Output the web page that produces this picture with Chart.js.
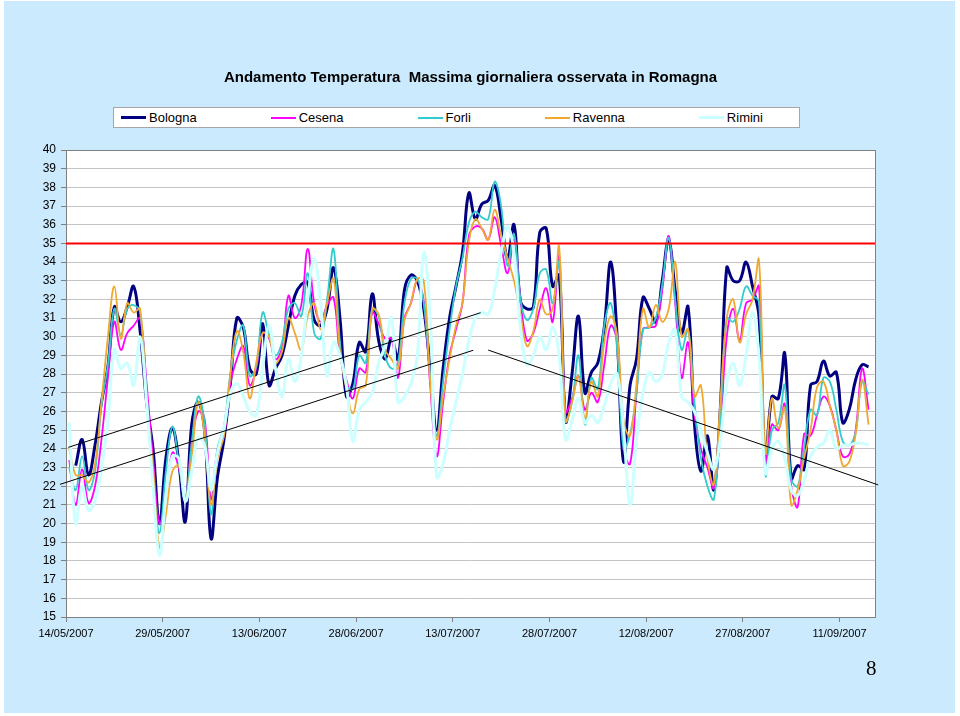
<!DOCTYPE html>
<html>
<head>
<meta charset="utf-8">
<script src="https://cdn.jsdelivr.net/npm/chart.js@4.4.1/dist/chart.umd.min.js"></script>
<style>
html,body{margin:0;padding:0;background:#ffffff;}
#page{position:relative;width:960px;height:716px;overflow:hidden;font-family:"Liberation Sans",Arial,sans-serif;color:#000;}
#bg{position:absolute;left:4px;top:1px;width:951px;height:712px;background:#CCEAFD;}
#c{position:absolute;left:0;top:0;}
#title{position:absolute;left:66px;width:809px;top:68px;text-align:center;font-weight:bold;font-size:15px;line-height:18px;white-space:pre;}
#legend{position:absolute;left:113px;top:107px;width:678px;height:19px;background:#fff;border:1px solid #A6A6A6;display:flex;align-items:center;padding-left:7px;box-sizing:content-box;}
.item{display:flex;align-items:center;font-size:13px;line-height:19px;margin-right:74px;white-space:nowrap;}
.swatch{width:25px;margin-right:3px;}
#pg{position:absolute;left:866px;top:658px;font-family:"Liberation Serif","Times New Roman",serif;font-size:21px;line-height:21px;}
</style>
</head>
<body>
<div id="page">
  <div id="bg"></div>
  <canvas id="c" width="960" height="716"></canvas>
  <div id="title">Andamento Temperatura  Massima giornaliera osservata in Romagna</div>
  <div id="legend"></div>
  <div id="pg">8</div>
</div>
<script>
// ---- data (daily maximum temperature, one value per day from 14/05/2007) ----
const tickLabels = ["14/05/2007","29/05/2007","13/06/2007","28/06/2007","13/07/2007","28/07/2007","12/08/2007","27/08/2007","11/09/2007"];
const seriesNames = ["Bologna","Cesena","Forli","Ravenna","Rimini"];

const bologna = [
 null,23.1,24.5,22.6,24.2,26.5,28.4,31.6,30.8,31.6,
 32.7,30.3,26.5,24.0,20.0,23.5,25.1,23.3,20.1,25.3,
 26.5,25.0,19.2,22.5,24.5,27.5,31.0,30.5,28.3,28.0,
 30.7,27.4,28.3,29.0,30.6,32.2,32.8,32.9,30.9,30.6,
 31.5,33.7,31.0,26.8,27.5,29.7,29.2,32.3,29.8,28.8,
 29.9,28.8,32.5,33.3,33.0,31.5,28.3,25.0,28.3,31.0,
 32.7,34.5,37.7,36.3,37.1,37.3,38.1,36.3,34.2,36.0,
 31.9,31.5,31.6,35.6,35.8,32.7,33.3,25.5,28.0,31.1,
 27.0,28.1,28.6,30.5,34.0,30.0,23.3,27.4,28.8,32.1,
 31.5,30.8,33.0,35.2,32.5,30.2,31.6,25.3,22.8,24.7,
 21.8,26.1,33.7,33.0,33.0,34.0,32.7,31.1,23.3,26.8,
 26.7,29.1,22.4,23.1,22.9,27.4,27.6,28.7,27.9,28.1,
 25.4,26.1,27.7,28.5,28.4];

const cesena = [
 23.4,21.0,22.9,21.1,22.0,24.5,27.8,30.8,29.3,30.2,
 30.6,31.0,27.5,23.5,20.0,21.5,23.8,23.0,21.3,24.3,
 26.0,25.6,21.3,24.0,24.7,27.5,28.8,29.5,27.4,28.3,
 30.2,29.9,28.8,29.4,32.2,31.0,31.7,34.7,31.8,30.8,
 31.7,32.1,29.0,27.7,26.7,28.3,28.1,31.3,30.7,29.9,
 29.9,27.8,31.0,31.8,33.0,31.9,27.4,23.6,26.5,29.0,
 30.4,31.8,35.4,35.9,35.8,35.2,36.4,34.9,33.4,35.2,
 32.0,29.8,30.2,31.5,32.6,30.8,34.3,26.0,26.7,27.9,
 26.1,27.0,26.5,28.5,30.6,29.7,24.0,23.2,27.0,30.4,
 30.5,30.6,32.5,35.4,31.8,27.8,29.7,25.8,24.0,23.0,
 21.9,25.0,30.0,31.5,29.8,31.8,32.0,32.7,23.3,25.3,
 25.0,26.4,22.0,20.9,24.8,24.7,25.8,26.8,26.3,25.0,
 23.6,23.7,25.0,28.3,26.1];

const forli = [
 23.0,21.8,23.6,21.8,22.8,26.3,28.5,31.5,30.1,31.5,
 31.7,31.3,27.0,22.5,19.5,22.8,25.2,23.3,21.3,24.3,
 26.8,25.4,20.5,24.0,25.2,28.0,29.8,30.6,27.9,28.4,
 31.3,30.1,29.0,29.7,31.5,31.8,31.1,33.4,30.2,29.9,
 32.0,34.7,29.7,27.4,27.2,29.0,28.6,31.5,31.1,29.0,
 28.3,28.6,31.8,33.1,33.1,31.8,27.9,24.7,27.6,30.4,
 32.7,34.2,36.1,36.7,36.4,36.3,38.3,37.0,33.8,35.5,
 32.0,30.9,31.5,33.4,33.6,31.8,34.0,25.5,26.5,29.0,
 25.3,27.8,27.2,30.6,31.8,29.3,24.0,24.8,27.0,30.4,
 30.5,31.0,32.8,35.3,32.0,29.3,30.4,26.5,23.5,22.0,
 21.3,25.5,31.0,30.8,31.5,32.7,32.2,31.9,22.6,25.0,
 25.4,27.4,22.4,22.0,24.0,26.1,25.8,27.8,27.6,26.1,
 24.4,24.2,24.9,27.6,26.9];

const ravenna = [
 24.0,22.6,22.6,22.2,23.2,26.5,30.0,32.7,29.9,31.8,
 31.3,31.5,26.5,23.0,18.7,20.5,22.8,23.1,21.3,23.5,
 26.5,24.7,21.0,23.5,24.7,28.0,30.3,29.2,26.7,28.6,
 30.2,30.0,28.6,29.2,31.0,30.2,29.3,31.1,31.8,30.4,
 31.8,33.1,29.2,27.2,25.9,27.2,27.4,31.5,31.2,29.3,
 28.8,28.3,30.9,31.8,33.1,33.0,27.6,24.5,26.8,28.8,
 30.6,31.8,35.1,36.3,35.8,35.2,36.8,35.4,34.2,33.0,
 31.2,29.5,30.3,32.0,31.2,31.5,34.8,25.5,26.5,27.9,
 25.6,27.6,26.8,29.7,31.1,30.1,25.5,24.7,27.5,31.5,
 30.5,31.7,30.8,31.5,34.0,30.0,30.4,26.8,27.4,23.5,
 22.1,26.5,31.0,32.0,29.7,31.2,32.0,34.1,23.8,26.7,
 25.1,26.2,21.0,21.8,23.5,25.0,27.3,27.6,26.3,25.0,
 23.1,23.3,24.8,27.7,25.3];

const rimini = [
 25.4,20.0,22.0,20.7,21.2,23.0,25.5,29.3,28.3,28.6,
 27.4,30.0,26.5,22.0,18.3,21.5,23.6,23.5,21.2,22.8,
 24.6,24.2,21.8,23.8,25.1,27.0,27.5,26.8,26.0,25.8,
 28.3,30.6,28.3,26.8,28.8,27.6,29.0,32.0,34.2,31.8,
 27.9,29.7,29.0,27.4,24.4,26.1,26.5,27.0,28.6,29.5,
 31.0,26.5,26.8,27.5,29.0,34.5,31.0,22.5,23.2,25.0,
 26.5,28.0,29.8,31.0,31.3,31.2,32.5,34.5,35.9,34.5,
 30.5,28.5,29.0,30.0,29.3,30.5,29.0,24.5,25.5,26.7,
 25.4,25.8,25.4,26.3,27.5,28.0,25.0,21.0,24.5,27.0,
 28.1,27.6,28.0,29.7,30.4,26.8,26.5,26.0,25.0,23.8,
 22.9,24.5,27.5,28.6,27.4,29.0,31.3,29.0,22.7,24.0,
 24.4,23.5,21.8,21.5,22.3,23.6,24.1,24.3,25.0,24.0,
 24.2,24.2,24.3,24.3,24.2];

// reference line (threshold) and hand-drawn trend lines, in (day, °C)
const thresholdDays = [0, 125.5];
const thresholdTemps = [35.0, 35.0];
const trendUpperDays = [0.36, 64.32];
const trendUpperTemps = [24.08, 31.29];
const trendLowerDays = [-0.93, 63.18];
const trendLowerTemps = [22.10, 29.28];
const trendDownDays = [65.5, 126.0];
const trendDownTemps = [29.29, 22.07];

// ---- build ----
const colors = ["#000080","#FF00FF","#33CCCC","#F0A830","#CCFFFF"];
const widths = [3, 1.8, 1.8, 1.8, 3];
const allSeries = [bologna, cesena, forli, ravenna, rimini];

function toPoints(arr){ return arr.map((v,i)=>({x:i+0.5, y:v})); }
function zipPoints(xs, ys){ return xs.map((x,i)=>({x:x, y:ys[i]})); }

const datasets = allSeries.map((arr, k) => ({
  label: seriesNames[k],
  data: toPoints(arr),
  borderColor: colors[k],
  backgroundColor: colors[k],
  borderWidth: widths[k],
  pointRadius: 0,
  tension: 0.4,
  fill: false,
  spanGaps: false,
  order: 5 - k
}));

function straight(xs, ys, color, w){
  return {label:'', data: zipPoints(xs, ys), borderColor: color, borderWidth: w,
          pointRadius: 0, tension: 0, fill: false, order: 0, clip: false};
}
datasets.push(straight(thresholdDays, thresholdTemps, '#FF0000', 2));
datasets.push(straight(trendUpperDays, trendUpperTemps, '#000000', 1));
datasets.push(straight(trendLowerDays, trendLowerTemps, '#000000', 1));
datasets.push(straight(trendDownDays, trendDownTemps, '#000000', 1));

// legend (HTML)
const lg = document.getElementById('legend');
seriesNames.forEach((n, k) => {
  const it = document.createElement('div'); it.className = 'item';
  const sw = document.createElement('div'); sw.className = 'swatch';
  sw.style.height = Math.round(widths[k]) + 'px'; sw.style.background = colors[k];
  const tx = document.createElement('span'); tx.textContent = n;
  it.appendChild(sw); it.appendChild(tx); lg.appendChild(it);
});

const plotFrame = {
  id: 'plotFrame',
  beforeDraw(chart){
    const {ctx, chartArea:a} = chart;
    ctx.save(); ctx.fillStyle = '#ffffff';
    ctx.fillRect(a.left, a.top, a.right - a.left, a.bottom - a.top);
    ctx.restore();
  },
  beforeDatasetsDraw(chart){
    const {ctx, chartArea:a} = chart;
    ctx.save(); ctx.strokeStyle = '#808080'; ctx.lineWidth = 1;
    ctx.strokeRect(a.left + 0.5, a.top + 0.5, a.right - a.left, a.bottom - a.top);
    ctx.restore();
  }
};

Chart.defaults.font.family = '"Liberation Sans", Arial, sans-serif';
Chart.defaults.color = '#000';

new Chart(document.getElementById('c'), {
  type: 'line',
  data: { datasets },
  options: {
    responsive: false,
    devicePixelRatio: 1,
    animation: false,
    events: [],
    layout: { padding: { left: 36, right: 85, top: 150, bottom: 59 } },
    plugins: { legend: { display: false }, tooltip: { enabled: false }, title: { display: false } },
    scales: {
      x: {
        type: 'linear', min: 0, max: 125.5,
        afterBuildTicks(scale){ scale.ticks = tickLabels.map((_, i) => ({ value: i * 15 })); },
        afterFit(scale){ scale.height = 40; },
        ticks: { autoSkip: false, maxRotation: 0, minRotation: 0, padding: 5,
                 font: { size: 11 }, color: '#000',
                 callback: (v, i) => tickLabels[i] },
        grid: { drawOnChartArea: false, drawTicks: true, tickLength: 5, tickColor: '#808080' },
        border: { display: false }
      },
      y: {
        type: 'linear', min: 15, max: 40,
        afterFit(scale){ scale.width = 30; },
        ticks: { stepSize: 1, padding: 5, font: { size: 12 }, color: '#000', autoSkip: false },
        grid: { color: '#C4C4C4', lineWidth: 1, tickLength: 5, tickColor: '#808080' },
        border: { display: false }
      }
    }
  },
  plugins: [plotFrame]
});
</script>
</body>
</html>
